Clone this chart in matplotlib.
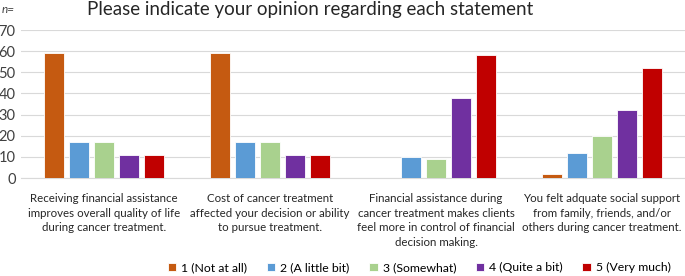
import numpy as np
import matplotlib.pyplot as plt

plt.rcParams['font.family'] = ['Lato', 'DejaVu Sans']

# datos
statements = [
    "Receiving financial assistance\nimproves overall quality of life\nduring cancer treatment.",
    "Cost of cancer treatment\naffected your decision or ability\nto pursue treatment.",
    "Financial assistance during\ncancer treatment makes clients\nfeel more in control of financial\ndecision making.",
    "You felt adquate social support\nfrom family, friends, and/or\nothers during cancer treatment.",
]
levels = ["1 (Not at all)", "2 (A little bit)", "3 (Somewhat)",
          "4 (Quite a bit)", "5 (Very much)"]
not_at_all = [59, 59, 0, 2]
a_little_bit = [17, 17, 10, 12]
somewhat = [17, 17, 9, 20]
quite_a_bit = [11, 11, 38, 32]
very_much = [11, 11, 58, 52]
colors = ['#C55A11', '#5B9BD5', '#A9D18E', '#7030A0', '#C00000']

series = [not_at_all, a_little_bit, somewhat, quite_a_bit, very_much]

fig = plt.figure(figsize=(6.85, 2.76), dpi=100)
ax = fig.add_axes([0.031, 0.355, 0.969, 0.536])

x = np.arange(len(statements))
width = 0.12
pitch = 0.151
for i, (vals, lab, c) in enumerate(zip(series, levels, colors)):
    ax.bar(x + (i - 2) * pitch, vals, width, color=c, label=lab,
           edgecolor='white', linewidth=0.6, zorder=3)

ax.set_xlim(-0.5, 3.5)
ax.set_ylim(0, 70)
ax.set_yticks(range(0, 71, 10))
ax.grid(axis='y', color='#D9D9D9', linewidth=0.8, zorder=0)
for s in ['top', 'right', 'left']:
    ax.spines[s].set_visible(False)
ax.spines['bottom'].set_color('#D9D9D9')
ax.tick_params(axis='y', length=0, labelsize=10.5, labelcolor='#404040', pad=4)
ax.tick_params(axis='x', length=0, labelsize=8.3, pad=11)
ax.set_xticks(x)
ax.set_xticklabels(statements, linespacing=1.4, color='#262626')

fig.text(0.453, 0.964, 'Please indicate your opinion regarding each statement',
         ha='center', va='center', fontsize=13.5, color='#262626')
fig.text(0.003, 0.965, 'n=', ha='left', va='center', fontsize=8.5,
         style='italic', color='#404040')

fig.legend(loc='center', bbox_to_anchor=(0.612, 0.03), ncol=5, frameon=False,
           fontsize=8.8, handlelength=0.7, handleheight=0.7,
           handletextpad=0.4, columnspacing=1.6)

fig.savefig('out.png', dpi=100)
